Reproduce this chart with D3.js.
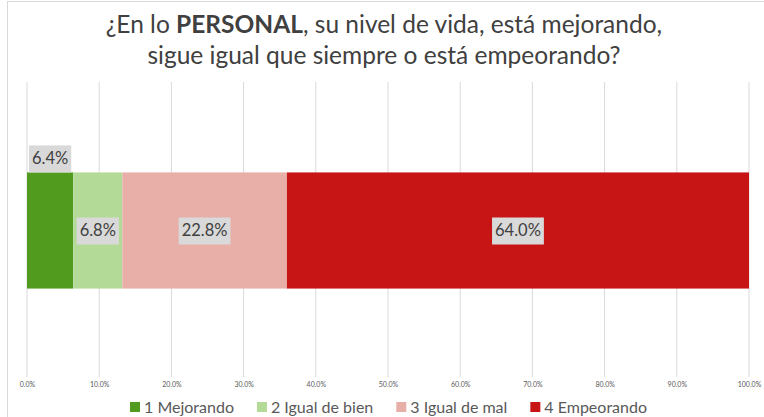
<!DOCTYPE html>
<html lang="es">
<head>
<meta charset="utf-8">
<script src="https://cdn.jsdelivr.net/npm/d3@7"></script>
<style>
  body { margin: 0; background: #fff; }
  svg { display: block; font-family: Lato, "Open Sans", sans-serif; }
</style>
</head>
<body>
<div id="chart"></div>
<script>
// data
const categories = ["1 Mejorando", "2 Igual de bien", "3 Igual de mal", "4 Empeorando"];
const values = [6.4, 6.8, 22.8, 64.0];
const colors = ["#519c1f", "#b4da97", "#e8aea8", "#c71414"];
const tickValues = [0, 10, 20, 30, 40, 50, 60, 70, 80, 90, 100];

const width = 764, height = 417;
const margin = { top: 82, right: 15, bottom: 40, left: 27 };

const svg = d3.select("#chart").append("svg")
    .attr("width", width)
    .attr("height", height);

// chart frame
svg.append("rect")
    .attr("x", 7.5).attr("y", 1.5)
    .attr("width", width + 10).attr("height", height + 10)
    .attr("fill", "none")
    .attr("stroke", "#d9d9d9");

// title
const title = svg.append("text")
    .attr("x", width / 2)
    .attr("text-anchor", "middle")
    .attr("fill", "#404040")
    .style("font-size", "24.5px");
title.append("tspan").attr("x", width / 2 + 2).attr("y", 33).text("¿En lo ");
title.append("tspan").style("font-weight", "bold").text("PERSONAL");
title.append("tspan").text(", su nivel de vida, está mejorando,");
title.append("tspan").attr("x", width / 2 + 2).attr("y", 64)
    .text("sigue igual que siempre o está empeorando?");

const x = d3.scaleLinear().domain([0, 100]).range([margin.left, 749]);
const plotBottom = 377;

// gridlines
svg.append("g")
    .selectAll("line")
    .data(tickValues)
    .join("line")
    .attr("x1", d => x(d)).attr("x2", d => x(d))
    .attr("y1", margin.top).attr("y2", plotBottom)
    .attr("stroke", "#d9d9d9")
    .attr("stroke-width", 1);

// axis labels
const axis = svg.append("g")
    .attr("transform", `translate(0,${plotBottom})`)
    .call(d3.axisBottom(x).tickValues(tickValues).tickFormat(d => d.toFixed(1) + "%").tickSize(0).tickPadding(5));
axis.select(".domain").remove();
axis.selectAll("text")
    .attr("fill", "#595959")
    .style("font-size", "7px")
    .style("font-family", "Lato, sans-serif");

// stacked segments
let acc = 0;
const segs = values.map((v, i) => {
    const s = { name: categories[i], value: v, x0: acc, x1: acc + v, color: colors[i] };
    acc += v;
    return s;
});

const y = d3.scaleBand().domain(["personal"]).range([margin.top + 1, plotBottom + 1]).paddingOuter(0.77);
const barY = y("personal");
const barH = y.bandwidth();

svg.append("g")
    .selectAll("rect")
    .data(segs)
    .join("rect")
    .attr("x", d => x(d.x0))
    .attr("width", d => x(d.x1) - x(d.x0))
    .attr("y", barY)
    .attr("height", barH)
    .attr("fill", d => d.color);

// data labels
const labels = svg.append("g")
    .selectAll("g")
    .data(segs)
    .join("g")
    .attr("transform", (d, i) => {
        const cx = (x(d.x0) + x(d.x1)) / 2;
        const cy = i === 0 ? barY - 14 : barY + barH / 2;
        return `translate(${cx},${cy})`;
    });

labels.append("text")
    .attr("text-anchor", "middle")
    .attr("dy", "0.35em")
    .attr("fill", "#404040")
    .style("font-size", "16.5px")
    .text(d => d.value.toFixed(1) + "%");

labels.each(function () {
    const g = d3.select(this);
    const bb = g.select("text").node().getBBox();
    g.insert("rect", "text")
        .attr("x", bb.x - 3).attr("y", -13)
        .attr("width", bb.width + 6).attr("height", 27)
        .attr("fill", "#d9d9d9");
});

// legend
const legend = svg.append("g");
const items = legend.selectAll("g")
    .data(categories)
    .join("g");
items.append("rect")
    .attr("width", 10).attr("height", 10)
    .attr("y", 402)
    .attr("fill", (d, i) => colors[i]);
items.append("text")
    .attr("x", 14).attr("y", 412.5)
    .attr("fill", "#595959")
    .style("font-size", "16px")
    .text(d => d);

let lx = 0;
const gap = 23;
items.each(function () {
    const w = 14 + d3.select(this).select("text").node().getComputedTextLength();
    d3.select(this).attr("transform", `translate(${lx},0)`);
    lx += w + gap;
});
legend.attr("transform", `translate(130,0)`);
</script>
</body>
</html>
